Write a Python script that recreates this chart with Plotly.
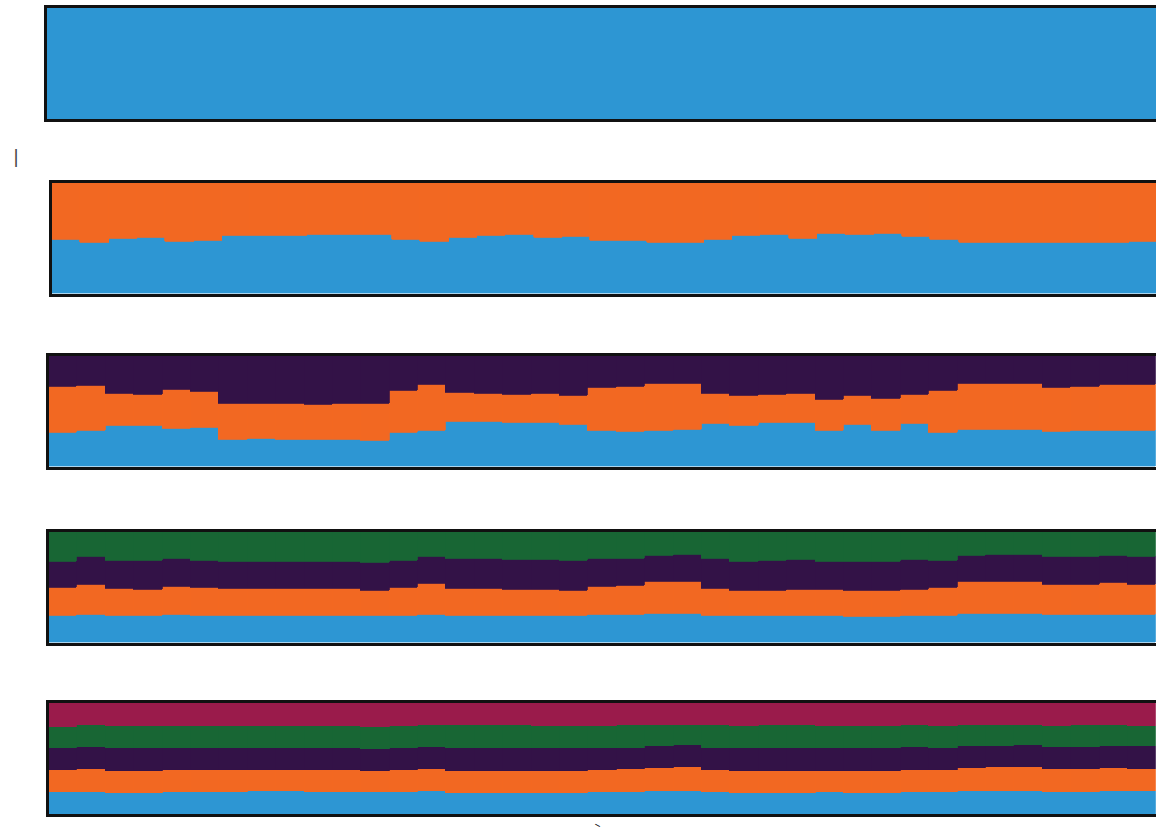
import plotly.graph_objects as go

# Ancestry proportions per individual (39 individuals), one list per cluster, K = 1..5
n_ind = 39
individuals = list(range(n_ind))

k1_c1 = [1.0] * n_ind

k2_c1 = [0.491, 0.458, 0.500, 0.506, 0.473, 0.482, 0.527, 0.521, 0.527, 0.536,
         0.533, 0.530, 0.488, 0.467, 0.503, 0.521, 0.530, 0.506, 0.515, 0.479,
         0.476, 0.458, 0.458, 0.488, 0.521, 0.533, 0.497, 0.539, 0.533, 0.539,
         0.518, 0.488, 0.455, 0.455, 0.458, 0.464, 0.464, 0.455, 0.467]
k2_c2 = [round(1 - v, 3) for v in k2_c1]

k3_c1 = [0.305, 0.326, 0.371, 0.371, 0.344, 0.347, 0.245, 0.254, 0.241, 0.239,
         0.241, 0.236, 0.302, 0.323, 0.404, 0.401, 0.398, 0.392, 0.374, 0.320,
         0.314, 0.326, 0.329, 0.389, 0.371, 0.392, 0.395, 0.320, 0.380, 0.323,
         0.386, 0.305, 0.329, 0.329, 0.329, 0.314, 0.320, 0.326, 0.323]
k3_c2 = [0.414, 0.408, 0.285, 0.279, 0.354, 0.327, 0.324, 0.318, 0.324, 0.324,
         0.324, 0.330, 0.381, 0.412, 0.261, 0.259, 0.255, 0.268, 0.270, 0.396,
         0.409, 0.420, 0.423, 0.270, 0.270, 0.261, 0.265, 0.288, 0.264, 0.292,
         0.265, 0.378, 0.417, 0.421, 0.423, 0.400, 0.405, 0.414, 0.418]
k3_c3 = [0.281, 0.266, 0.344, 0.350, 0.302, 0.326, 0.431, 0.428, 0.434, 0.437,
         0.434, 0.434, 0.317, 0.266, 0.335, 0.341, 0.347, 0.341, 0.356, 0.284,
         0.277, 0.254, 0.248, 0.341, 0.359, 0.347, 0.341, 0.392, 0.356, 0.386,
         0.350, 0.317, 0.254, 0.250, 0.248, 0.286, 0.275, 0.259, 0.259]

k4_c1 = [0.239, 0.254, 0.239, 0.239, 0.251, 0.245, 0.239, 0.239, 0.239, 0.239,
         0.242, 0.239, 0.245, 0.254, 0.245, 0.245, 0.242, 0.239, 0.239, 0.251,
         0.248, 0.260, 0.263, 0.245, 0.239, 0.239, 0.245, 0.239, 0.233, 0.233,
         0.239, 0.245, 0.260, 0.260, 0.263, 0.254, 0.251, 0.254, 0.251]
k4_c2 = [0.254, 0.269, 0.245, 0.239, 0.257, 0.248, 0.245, 0.245, 0.245, 0.245,
         0.245, 0.233, 0.254, 0.275, 0.239, 0.239, 0.236, 0.239, 0.233, 0.257,
         0.269, 0.287, 0.287, 0.239, 0.230, 0.233, 0.233, 0.236, 0.236, 0.236,
         0.239, 0.254, 0.287, 0.287, 0.290, 0.269, 0.275, 0.284, 0.275]
k4_c3 = [0.239, 0.248, 0.257, 0.263, 0.245, 0.248, 0.245, 0.248, 0.248, 0.245,
         0.245, 0.248, 0.239, 0.242, 0.272, 0.269, 0.272, 0.269, 0.269, 0.250,
         0.239, 0.239, 0.239, 0.269, 0.260, 0.266, 0.269, 0.254, 0.260, 0.260,
         0.269, 0.242, 0.239, 0.242, 0.239, 0.248, 0.245, 0.242, 0.245]
k4_c4 = [0.269, 0.230, 0.260, 0.260, 0.248, 0.260, 0.272, 0.269, 0.269, 0.272,
         0.269, 0.281, 0.263, 0.230, 0.245, 0.248, 0.251, 0.254, 0.260, 0.243,
         0.245, 0.215, 0.212, 0.248, 0.272, 0.263, 0.254, 0.272, 0.272, 0.272,
         0.254, 0.260, 0.215, 0.212, 0.209, 0.230, 0.230, 0.221, 0.230]

k5_c1 = [0.194, 0.200, 0.191, 0.191, 0.197, 0.197, 0.200, 0.203, 0.203, 0.200,
         0.200, 0.197, 0.197, 0.203, 0.185, 0.185, 0.188, 0.188, 0.191, 0.194,
         0.197, 0.206, 0.206, 0.194, 0.188, 0.188, 0.191, 0.194, 0.188, 0.191,
         0.194, 0.194, 0.203, 0.203, 0.206, 0.200, 0.200, 0.203, 0.203]
k5_c2 = [0.200, 0.203, 0.197, 0.197, 0.200, 0.197, 0.194, 0.194, 0.194, 0.194,
         0.194, 0.191, 0.197, 0.206, 0.203, 0.203, 0.200, 0.200, 0.197, 0.206,
         0.206, 0.212, 0.215, 0.200, 0.197, 0.200, 0.200, 0.197, 0.197, 0.197,
         0.200, 0.206, 0.215, 0.218, 0.218, 0.206, 0.206, 0.209, 0.203]
k5_c3 = [0.197, 0.203, 0.203, 0.203, 0.200, 0.203, 0.203, 0.200, 0.200, 0.200,
         0.203, 0.197, 0.203, 0.197, 0.209, 0.209, 0.209, 0.203, 0.203, 0.197,
         0.194, 0.194, 0.197, 0.203, 0.206, 0.209, 0.206, 0.200, 0.206, 0.206,
         0.209, 0.197, 0.197, 0.194, 0.194, 0.200, 0.200, 0.200, 0.203]
k5_c4 = [0.197, 0.194, 0.200, 0.200, 0.197, 0.197, 0.197, 0.200, 0.200, 0.197,
         0.194, 0.203, 0.194, 0.194, 0.209, 0.209, 0.209, 0.206, 0.203, 0.197,
         0.203, 0.194, 0.188, 0.203, 0.203, 0.203, 0.203, 0.206, 0.203, 0.200,
         0.200, 0.197, 0.191, 0.191, 0.188, 0.191, 0.194, 0.188, 0.185]
k5_c5 = [0.212, 0.200, 0.209, 0.209, 0.206, 0.206, 0.206, 0.203, 0.203, 0.209,
         0.209, 0.212, 0.209, 0.200, 0.194, 0.194, 0.194, 0.203, 0.206, 0.206,
         0.200, 0.194, 0.194, 0.200, 0.206, 0.200, 0.200, 0.203, 0.206, 0.206,
         0.197, 0.206, 0.194, 0.194, 0.194, 0.203, 0.200, 0.200, 0.206]

cluster_colors = ["#2D96D3", "#F26822", "#331247", "#186634", "#9A1B4B"]

panels = [
    [k1_c1],
    [k2_c1, k2_c2],
    [k3_c1, k3_c2, k3_c3],
    [k4_c1, k4_c2, k4_c3, k4_c4],
    [k5_c1, k5_c2, k5_c3, k5_c4, k5_c5],
]

W, H = 1156, 840
# plot-area boxes in pixels: (left, top, bottom)
boxes = [
    (46.5, 8.0, 119.0),
    (52.0, 182.5, 293.5),
    (48.7, 355.5, 466.5),
    (48.7, 531.5, 642.5),
    (48.7, 703.0, 814.0),
]
bar_px = 28.33

fig = go.Figure()
layout = dict(
    width=W, height=H,
    margin=dict(l=0, r=0, t=0, b=0),
    paper_bgcolor="white", plot_bgcolor="white",
    barmode="stack", bargap=0,
    showlegend=False,
)

for p, (comps, (left, top, bottom)) in enumerate(zip(panels, boxes), start=1):
    xa = "x" if p == 1 else f"x{p}"
    ya = "y" if p == 1 else f"y{p}"
    for j, vals in enumerate(comps):
        fig.add_trace(go.Bar(
            x=individuals, y=vals,
            marker=dict(color=cluster_colors[j],
                        line=dict(color=cluster_colors[j], width=0.8)),
            xaxis=xa, yaxis=ya, hoverinfo="skip",
        ))
    # the last individual runs to the right edge of the page
    x_hi = min(-0.5 + (W - left) / bar_px, n_ind - 0.5)
    layout["xaxis" if p == 1 else f"xaxis{p}"] = dict(
        domain=[left / W, 1.0], range=[-0.5, x_hi],
        showline=True, linecolor="#111111", linewidth=3, mirror=True,
        showticklabels=False, ticks="", showgrid=False, zeroline=False,
        anchor=ya,
    )
    layout["yaxis" if p == 1 else f"yaxis{p}"] = dict(
        domain=[1 - bottom / H, 1 - top / H], range=[0, 1],
        showline=True, linecolor="#111111", linewidth=3, mirror=False,
        showticklabels=False, ticks="", showgrid=False, zeroline=False,
        anchor=xa,
    )

fig.update_layout(**layout)

fig.add_annotation(text="|", xref="paper", yref="paper", x=11 / W, y=1 - 144 / H,
                   showarrow=False, font=dict(size=18, color="#444444", family="DejaVu Sans"))
fig.add_annotation(text="–", xref="paper", yref="paper", x=598 / W, y=1 - 835 / H,
                   showarrow=False, textangle=28,
                   font=dict(size=13, color="#111111", family="DejaVu Sans"))

fig.write_html("out.html")
